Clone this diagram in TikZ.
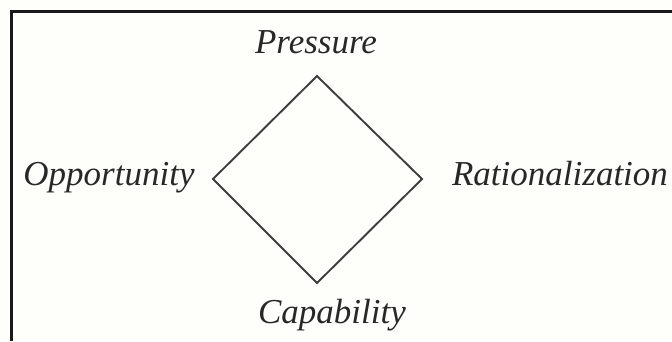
\documentclass[tikz,border=0pt]{standalone}
\usepackage{fontspec}
\setmainfont{Liberation Serif}
\definecolor{bg}{RGB}{254,254,250}
\definecolor{ink}{RGB}{40,40,40}
\begin{document}
\begin{tikzpicture}[x=1pt,y=-1pt,
  lbl/.style={anchor=base,inner sep=0pt,font=\fontsize{35}{38}\selectfont\itshape,text=ink},
  frameline/.style={line width=2.2pt,draw=black!90},
  shapeline/.style={line width=1.9pt,draw=ink!90,line join=miter}]
\fill[bg] (0,0) rectangle (672,341);
\useasboundingbox (0,0) rectangle (672,341);
% frame (top and left edges)
\coordinate (ftr) at (672,11.5);
\coordinate (ftl) at (11.5,11.5);
\coordinate (fbl) at (11.5,341);
\draw[frameline] (ftr) -- (ftl) -- (fbl);
% diamond
\coordinate (top) at (317,76);
\coordinate (left) at (213,179);
\coordinate (right) at (422,179);
\coordinate (bottom) at (317,283);
\draw[shapeline] (top) -- (right) -- (bottom) -- (left) -- cycle;
% labels
\node[lbl] (pressure) at (316,53) {Pressure};
\node[lbl] (opportunity) at (109,185) {Opportunity};
\node[lbl] (rational) at (560,185) {Rationalization};
\node[lbl] (capability) at (332,323) {Capability};
\end{tikzpicture}
\end{document}
